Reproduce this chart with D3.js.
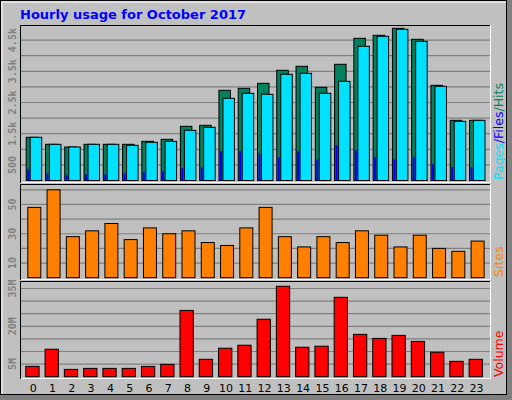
<!DOCTYPE html>
<html><head><meta charset="utf-8">
<script src="https://cdn.jsdelivr.net/npm/d3@7"></script>
<style>body{margin:0;background:#fff}svg{display:block}</style></head>
<body><svg id="c" width="512" height="400"></svg>
<script>
const hours = d3.range(24).map(String);
const hits  = [1385,1160,1074,1160,1160,1160,1256,1320,1737,1769,2890,2955,3115,3532,3660,2987,3724,4557,4654,4878,4525,3051,1929,1929];
const pages = [1385,1160,1074,1160,1160,1128,1224,1256,1609,1705,2634,2795,2763,3404,3436,2795,3179,4301,4622,4846,4461,3019,1897,1929];
const files = [359,231,167,199,199,231,263,295,391,423,936,936,872,744,936,679,1128,968,744,679,744,519,423,423];
const sites = [48,60,28,32,37,26,34,30,32,24,22,34,48,28,21,28,24,32,29,21,29,20,18,25];
const volume = [4.1,10.9,2.9,3.3,3.3,3.3,4.1,4.9,26.3,6.9,11.3,12.5,22.8,35.9,11.7,12.1,31.5,16.8,15.2,16.4,14.0,9.7,6.1,6.9];
const usageTicks = [500,1500,2500,3500,4500], usageTickLabels = ["500","1.5k","2.5k","3.5k","4.5k"];
const siteTicks = [10,30,50];
const volTicks = [5,20,35], volTickLabels = ["5M","20M","35M"];

const svg = d3.select("#c");
svg.append("rect").attr("x",0).attr("y",0).attr("width",512).attr("height",400).attr("fill","#808080");
svg.append("rect").attr("x",0.5).attr("y",0.5).attr("width",506).attr("height",394).attr("fill","#C0C0C0").attr("stroke","#000");
svg.append("path").attr("d","M2,394V2H506").attr("fill","none").attr("stroke","#fff");
svg.append("text").attr("x",20).attr("y",19).text("Hourly usage for October 2017")
  .attr("font-family","DejaVu Sans").attr("font-weight","bold").attr("font-size",13).attr("fill","#0000FF");

const x = d3.scaleLinear().domain([0,23]).range([25.7,469]);

function panel(top,bottom){
  svg.append("rect").attr("x",20).attr("y",top).attr("width",470).attr("height",bottom-top).attr("fill","#C0C0C0");
  svg.append("path").attr("d",`M20.5,${bottom}V${top+.5}H490`).attr("fill","none").attr("stroke","#000");
  svg.append("path").attr("d",`M21,${bottom-.5}H490.5V${top}`).attr("fill","none").attr("stroke","#fff");
}
function grid(y, vals, labels){
  vals.forEach((v,i)=>{});
}
function gridlines(y, n, step){
  for(let k=1;k<=n;k++) svg.append("line").attr("x1",21).attr("x2",490).attr("y1",y(k*step)).attr("y2",y(k*step)).attr("stroke","#808080").attr("stroke-width",1.2);
}
function leftLabels(y, vals, labels){
  vals.forEach((v,i)=>{
    svg.append("text").attr("transform",`translate(16,${y(v)}) rotate(-90)`).attr("text-anchor","middle")
      .attr("font-family","DejaVu Sans Mono").attr("font-weight","bold").attr("font-size",10).attr("fill","#808080").text(labels[i]);
  });
}
function rightLabel(yStart, parts){
  const t = svg.append("text").attr("transform",`translate(503,${yStart}) rotate(-90)`)
    .attr("font-family","DejaVu Sans").attr("font-size",12.5);
  parts.forEach(p=>t.append("tspan").attr("fill",p[1]).text(p[0]));
}
function bars(data, y, off, w, color){
  svg.append("g").selectAll("rect").data(data).join("rect")
    .attr("x",(d,i)=>x(i)+off+.5).attr("y",d=>y(d)).attr("width",w).attr("height",d=>y(0)-y(d))
    .attr("fill",color).attr("stroke","#000").attr("stroke-width",1);
}

// Panel 1
panel(25,183);
const y1 = d3.scaleLinear().domain([0,4500]).range([180.5,40.1]);
gridlines(y1,9,500);
bars(hits,y1,0,11.5,"#00805C");
bars(pages,y1,4,11.5,"#00E0FF");
svg.append("g").selectAll("rect").data(files).join("rect")
  .attr("x",(d,i)=>x(i)+1.5).attr("y",d=>y1(d)).attr("width",2).attr("height",d=>y1(0)-y1(d)).attr("fill","#0000FF");
leftLabels(y1,usageTicks,usageTickLabels);
rightLabel(180,[["Pages","#00E0FF"],["/Files","#0000FF"],["/Hits","#00805C"]]);

// Panel 2
panel(184,280);
const y2 = d3.scaleLinear().domain([0,60]).range([277.7,189.8]);
gridlines(y2,6,10);
bars(sites,y2,1.6,13,"#FF8000");
leftLabels(y2,siteTicks,siteTicks.map(String));
rightLabel(277,[["Sites","#FF8000"]]);

// Panel 3
panel(281,379);
const y3 = d3.scaleLinear().domain([0,35]).range([376.7,288.5]);
gridlines(y3,7,5);
bars(volume,y3,-0.4,13.3,"#FF0000");
leftLabels(y3,volTicks,volTickLabels);
rightLabel(377,[["Volume","#FF0000"]]);

svg.append("g").selectAll("text").data(hours).join("text")
  .attr("x",(d,i)=>x(i)+7.6).attr("y",392).attr("text-anchor","middle")
  .attr("font-family","DejaVu Sans").attr("font-size",11).attr("fill","#000").text(d=>d);
</script></body></html>
